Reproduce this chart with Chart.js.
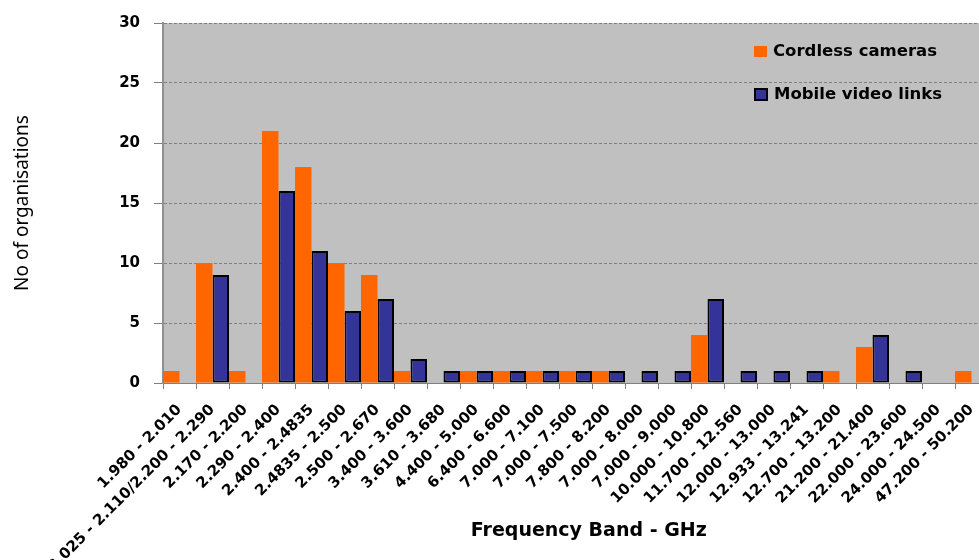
<!DOCTYPE html>
<html>
<head>
<meta charset="utf-8">
<script src="https://cdn.jsdelivr.net/npm/chart.js@4/dist/chart.umd.min.js"></script>
<style>
  html, body { margin: 0; padding: 0; background: #fff; overflow: hidden; }
  #wrap { position: relative; width: 1000px; height: 560px; }
  .legend { position: absolute; left: 754px; font: bold 16.5px "DejaVu Sans", Verdana, sans-serif; color: #000; white-space: nowrap; }
  .legend span { display: inline-block; vertical-align: middle; margin-right: 6px; box-sizing: border-box; }
</style>
</head>
<body>
<div id="wrap">
  <canvas id="myChart" width="1000" height="560"></canvas>
  <div class="legend" id="leg1" style="top:41px"><span style="width:13px;height:11px;background:#FF6600"></span>Cordless cameras</div>
  <div class="legend" id="leg2" style="top:84px"><span style="width:14px;height:13px;background:#333399;border:2px solid #000"></span>Mobile video links</div>
</div>
<script>
// frequency bands (GHz)
const bands = [
  '1.980 - 2.010', '2.025 - 2.110/2.200 - 2.290', '2.170 - 2.200', '2.290 - 2.400',
  '2.400 - 2.4835', '2.4835 - 2.500', '2.500 - 2.670', '3.400 - 3.600', '3.610 - 3.680',
  '4.400 - 5.000', '6.400 - 6.600', '7.000 - 7.100', '7.000 - 7.500', '7.800 - 8.200',
  '7.000 - 8.000', '7.000 - 9.000', '10.000 - 10.800', '11.700 - 12.560', '12.000 - 13.000',
  '12.933 - 13.241', '12.700 - 13.200', '21.200 - 21.400', '22.000 - 23.600',
  '24.000 - 24.500', '47.200 - 50.200',
];
const cordlessCameras = [1, 10, 1, 21, 18, 10, 9, 1, 0, 1, 1, 1, 1, 1, 0, 0, 4, 0, 0, 0, 1, 3, 0, 0, 1];
const mobileVideoLinks = [0, 9, 0, 16, 11, 6, 7, 2, 1, 1, 1, 1, 1, 1, 1, 1, 7, 1, 1, 1, 0, 4, 1, 0, 0];
const yTicks = [0, 5, 10, 15, 20, 25, 30];

const plotBg = {
  id: 'plotBg',
  beforeDraw(chart) {
    const { ctx, chartArea } = chart;
    ctx.save();
    ctx.fillStyle = '#C0C0C0';
    ctx.fillRect(chartArea.left, chartArea.top, chartArea.right - chartArea.left, chartArea.bottom - chartArea.top);
    ctx.restore();
  },
};

const ctx = document.getElementById('myChart').getContext('2d');
const myChart = new Chart(ctx, {
  type: 'bar',
  data: {
    labels: bands,
    datasets: [{
      label: 'Cordless cameras',
      data: cordlessCameras,
      backgroundColor: '#FF6600',
      borderWidth: 0,
      inflateAmount: 0,
    }, {
      label: 'Mobile video links',
      data: mobileVideoLinks,
      backgroundColor: '#333399',
      borderColor: '#000000',
      borderWidth: 2,
      borderSkipped: false,
      inflateAmount: 0,
    }],
  },
  options: {
    responsive: false,
    animation: false,
    datasets: { bar: { barPercentage: 1, categoryPercentage: 1 } },
    layout: { padding: { top: 21, right: 12, left: 0, bottom: 0 } },
    plugins: { legend: { display: false }, tooltip: { enabled: false } },
    scales: {
      x: {
        grid: { drawOnChartArea: false, drawTicks: true, tickLength: 6, tickColor: '#808080' },
        border: { color: '#808080', width: 1 },
        ticks: {
          autoSkip: false, minRotation: 45, maxRotation: 45, padding: 12, color: '#000',
          font: { family: 'DejaVu Sans', weight: 'bold', size: 15 },
        },
        title: {
          display: true, text: '\u00a0\u00a0\u00a0\u00a0Frequency Band - GHz', color: '#000',
          font: { family: 'DejaVu Sans', weight: 'bold', size: 19 },
          padding: { top: 0, bottom: 18 },
        },
        afterFit: (s) => { s.height = 177; },
      },
      y: {
        min: 0, max: 30,
        afterBuildTicks: (s) => { s.ticks = yTicks.map((v) => ({ value: v })); },
        grid: { color: '#7f7f7f', lineWidth: 1, tickLength: 9, tickColor: '#808080' },
        border: { color: '#909090', width: 2, dash: [3, 2] },
        ticks: {
          padding: 14, color: '#000',
          font: { family: 'DejaVu Sans', weight: 'bold', size: 15 },
        },
        title: {
          display: true, text: 'No of organisations', color: '#000',
          font: { family: 'Noto Sans', size: 19 },
          padding: { top: 11, bottom: 0 },
        },
        afterFit: (s) => { s.width = 163; },
      },
    },
  },
  plugins: [plotBg],
});
</script>
</body>
</html>
